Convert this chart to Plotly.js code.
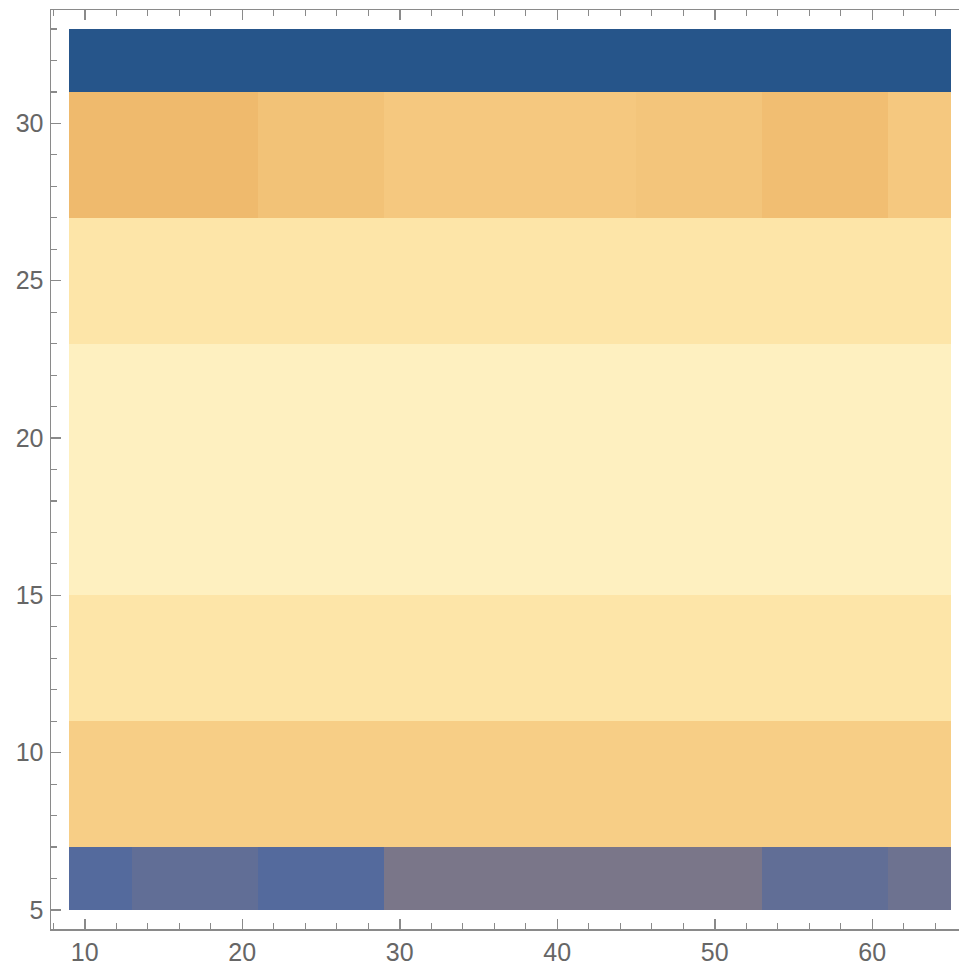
<!DOCTYPE html>
<html>
<head>
<meta charset="utf-8">
<script src="https://cdn.plot.ly/plotly-3.0.1.min.js"></script>
<style>
  html, body { margin: 0; padding: 0; background: #ffffff; overflow: hidden; }
  #plot { width: 980px; height: 965px; }
</style>
</head>
<body>
<div id="plot"></div>
<script>
// Sample positions of the grid (cell centres)
const xCenters = [9, 17, 25, 33, 41, 49, 57, 65];
const yCenters = [5, 9, 13, 17, 21, 25, 29, 33];

// Field values, one row per y sample (bottom to top), one column per x sample
const row5  = [0.20, 0.235, 0.20, 0.30, 0.30, 0.30, 0.235, 0.265];
const row9  = [0.70, 0.70, 0.70, 0.70, 0.70, 0.70, 0.70, 0.70];
const row13 = [0.90, 0.90, 0.90, 0.90, 0.90, 0.90, 0.90, 0.90];
const row17 = [1.00, 1.00, 1.00, 1.00, 1.00, 1.00, 1.00, 1.00];
const row21 = [1.00, 1.00, 1.00, 1.00, 1.00, 1.00, 1.00, 1.00];
const row25 = [0.90, 0.90, 0.90, 0.90, 0.90, 0.90, 0.90, 0.90];
const row29 = [0.60, 0.60, 0.64, 0.67, 0.67, 0.655, 0.62, 0.67];
const row33 = [0.00, 0.00, 0.00, 0.00, 0.00, 0.00, 0.00, 0.00];

const xTicks = [10, 20, 30, 40, 50, 60];
const yTicks = [5, 10, 15, 20, 25, 30];

// Cell edges: midpoints between samples, clipped to the outermost samples
function edgesFrom(c) {
  const e = [c[0]];
  for (let i = 0; i < c.length - 1; i++) e.push((c[i] + c[i + 1]) / 2);
  e.push(c[c.length - 1]);
  return e;
}

const z = [row5, row9, row13, row17, row21, row25, row29, row33];

const densityScale = [
  [0.00, '#26558A'],
  [0.20, '#546A9D'],
  [0.30, '#7A7689'],
  [0.60, '#EFBA6D'],
  [0.70, '#F7CE86'],
  [0.90, '#FDE5A8'],
  [1.00, '#FEF0C0']
];

const trace = {
  type: 'heatmap',
  x: edgesFrom(xCenters),
  y: edgesFrom(yCenters),
  z: z,
  zmin: 0,
  zmax: 1,
  colorscale: densityScale,
  showscale: false,
  zsmooth: false,
  hoverinfo: 'x+y+z'
};

const frameColor = '#8a8a8a';
const tickFont = { family: 'Liberation Sans, Arial, sans-serif', size: 25, color: '#666666' };

const axisCommon = {
  showline: true,
  linecolor: frameColor,
  linewidth: 1.5,
  mirror: 'ticks',
  ticks: 'inside',
  ticklen: 10,
  tickwidth: 1.5,
  tickcolor: frameColor,
  showgrid: false,
  zeroline: false,
  tickfont: tickFont,
  fixedrange: true
};

const layout = {
  width: 980,
  height: 965,
  margin: { l: 51, r: 11, t: 10, b: 36 },
  paper_bgcolor: '#ffffff',
  plot_bgcolor: '#ffffff',
  showlegend: false,
  xaxis: Object.assign({}, axisCommon, {
    range: [7.857, 66.143],
    tickmode: 'array',
    tickvals: xTicks,
    ticktext: xTicks.map(String),
    ticklabelstandoff: 0,
    minor: { dtick: 2, tick0: 0, ticks: 'inside', ticklen: 6, tickwidth: 1.2, tickcolor: frameColor, showgrid: false }
  }),
  yaxis: Object.assign({}, axisCommon, {
    range: [4.396, 33.604],
    tickmode: 'array',
    tickvals: yTicks,
    ticktext: yTicks.map(String),
    ticklabelstandoff: 1,
    minor: { dtick: 1, tick0: 0, ticks: 'inside', ticklen: 6, tickwidth: 1.2, tickcolor: frameColor, showgrid: false }
  })
};

Plotly.newPlot('plot', [trace], layout, { displayModeBar: false, staticPlot: true });
</script>
</body>
</html>
